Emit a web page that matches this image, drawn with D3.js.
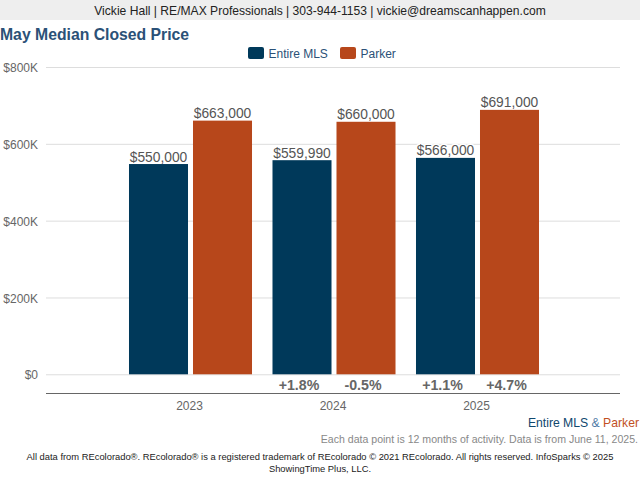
<!DOCTYPE html>
<html>
<head>
<meta charset="utf-8">
<script src="https://cdn.jsdelivr.net/npm/d3@7"></script>
<style>
  html, body { margin: 0; padding: 0; background: #fff; }
  svg { display: block; font-family: "Liberation Sans", Arial, sans-serif; }
</style>
</head>
<body>
<svg id="chart" width="640" height="480"></svg>
<script>
const years = ['2023', '2024', '2025']
const seriesNames = ['Entire MLS', 'Parker']
const seriesColors = ['#00395a', '#b7471b']
const entireMls = [550000, 559990, 566000]
const parker = [663000, 660000, 691000]
const entireChange = [null, '+1.8%', '+1.1%']
const parkerChange = [null, '-0.5%', '+4.7%']
const yTicks = [0, 200000, 400000, 600000, 800000]

const headerText = 'Vickie Hall | RE/MAX Professionals | 303-944-1153 | vickie@dreamscanhappen.com'
const titleText = 'May Median Closed Price'
const noteText = 'Each data point is 12 months of activity. Data is from June 11, 2025.'
const footerLines = [
  'All data from REcolorado®. REcolorado® is a registered trademark of REcolorado © 2021 REcolorado. All rights reserved. InfoSparks © 2025',
  'ShowingTime Plus, LLC.'
]

const plot = { left: 46, right: 620, top: 67, bottom: 393.5 }
const band = (plot.right - plot.left) / 4

const svg = d3.select('#chart')

// header
svg.append('rect').attr('width', 640).attr('height', 20).attr('fill', '#eeeeee')
svg.append('text')
  .attr('x', 320).attr('y', 15)
  .attr('text-anchor', 'middle')
  .attr('font-size', 12.1).attr('fill', '#222')
  .text(headerText)

svg.append('text')
  .attr('x', 0).attr('y', 40)
  .attr('font-size', 15.75).attr('font-weight', 'bold').attr('fill', '#2b5177')
  .text(titleText)

// legend
const legend = svg.append('g')
const legendX = [248, 340]
seriesNames.forEach((name, i) => {
  legend.append('rect')
    .attr('x', legendX[i]).attr('y', 47)
    .attr('width', 16).attr('height', 12).attr('rx', 2)
    .attr('fill', seriesColors[i])
  legend.append('text')
    .attr('x', legendX[i] + 20.5).attr('y', 58)
    .attr('font-size', 12).attr('fill', '#2b5177')
    .text(name)
})

// y
const y = d3.scaleLinear()
  .domain([-50000, 800000])
  .range([plot.bottom, plot.top])

const yAxis = d3.axisLeft(y)
  .tickValues(yTicks)
  .tickSize(plot.left - plot.right)
  .tickPadding(8)
  .tickFormat(d => d === 0 ? '$0' : `$${d / 1000}K`)
const yG = svg.append('g')
  .attr('transform', `translate(${plot.left}, 0)`)
  .call(yAxis)
yG.select('.domain').remove()
yG.selectAll('line').attr('stroke', '#dddddd')
yG.selectAll('text')
  .attr('dy', '0.38em')
  .attr('font-size', 12).attr('fill', '#666')
  .attr('font-family', '"Liberation Sans", Arial, sans-serif')

// x
const x = d3.scaleBand()
  .domain(years)
  .range([plot.left + band / 2, plot.right - band / 2])
const x1 = d3.scaleBand()
  .domain(seriesNames)
  .range([1, x.bandwidth() + 1])
  .paddingInner(0.078)
  .paddingOuter(0.16)

const xAxis = d3.axisBottom(x).tickSize(0).tickPadding(8)
const xG = svg.append('g')
  .attr('transform', `translate(0, ${plot.bottom})`)
  .call(xAxis)
xG.select('.domain').remove()
xG.append('line')
  .attr('x1', plot.left).attr('x2', plot.right)
  .attr('stroke', '#666')
xG.selectAll('text')
  .attr('font-size', 12).attr('fill', '#666')
  .attr('font-family', '"Liberation Sans", Arial, sans-serif')

// bars, tops sit a pixel under the scale value in the reference
const topInset = 1
const changeShift = -3
const rows = [entireMls, parker]
const changes = [entireChange, parkerChange]
const data = rows.flatMap((values, s) => years.map((year, i) => ({
  year,
  name: seriesNames[s],
  color: seriesColors[s],
  value: values[i],
  change: changes[s][i]
})))
const barCenter = d => x(d.year) + x1(d.name) + x1.bandwidth() / 2
const moneyLabel = d => `$${d3.format(',')(d.value)}`

// white halos go under the bars so they only cut the gridlines
svg.append('g').selectAll('text').data(data)
  .enter().append('text')
    .attr('x', barCenter)
    .attr('y', d => y(d.value) - 1.5)
    .attr('text-anchor', 'middle')
    .attr('font-size', 13.8)
    .attr('fill', '#fff')
    .attr('stroke', '#fff').attr('stroke-width', 3)
    .text(moneyLabel)

svg.append('g').selectAll('rect').data(data)
  .enter().append('rect')
    .attr('x', d => x(d.year) + x1(d.name))
    .attr('y', d => y(d.value) + topInset)
    .attr('width', x1.bandwidth())
    .attr('height', d => y(0) - y(d.value) - topInset)
    .attr('fill', d => d.color)

svg.append('g').selectAll('text').data(data)
  .enter().append('text')
    .attr('x', barCenter)
    .attr('y', d => y(d.value) - 1.5)
    .attr('text-anchor', 'middle')
    .attr('font-size', 13.8).attr('fill', '#555')
    .text(moneyLabel)

svg.append('g').selectAll('text').data(data.filter(d => d.change))
  .enter().append('text')
    .attr('x', d => barCenter(d) + changeShift)
    .attr('y', y(0) + 15.5)
    .attr('text-anchor', 'middle')
    .attr('font-size', 14.2).attr('font-weight', 'bold').attr('fill', '#666')
    .text(d => d.change)

// source lines
const src = svg.append('text')
  .attr('x', 639).attr('y', 426.5)
  .attr('text-anchor', 'end')
  .attr('font-size', 12.2)
src.append('tspan').attr('fill', '#10486e').text(seriesNames[0])
src.append('tspan').attr('fill', '#4f7aa5').text(' & ')
src.append('tspan').attr('fill', '#c2501f').text(seriesNames[1])

svg.append('text')
  .attr('x', 638).attr('y', 442.5)
  .attr('text-anchor', 'end')
  .attr('font-size', 10.57).attr('fill', '#888')
  .text(noteText)

svg.selectAll('text.footer').data(footerLines)
  .enter().append('text')
    .classed('footer', true)
    .attr('x', 320)
    .attr('y', (d, i) => 460 + i * 12)
    .attr('text-anchor', 'middle')
    .attr('font-size', 9.37).attr('fill', '#222')
    .text(d => d)
</script>
</body>
</html>
